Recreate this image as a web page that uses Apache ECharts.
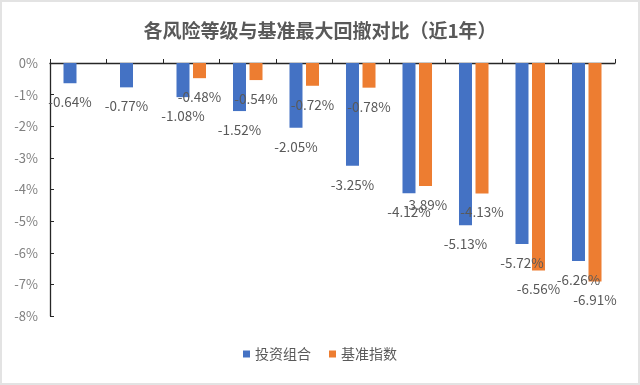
<!DOCTYPE html>
<html>
<head>
<meta charset="utf-8">
<script src="https://cdn.jsdelivr.net/npm/echarts@6/dist/echarts.min.js"></script>
<style>
html,body{margin:0;padding:0;background:#fff;}
#c{width:640px;height:385px;box-sizing:border-box;border:2px solid #e3e3e3;}
</style>
</head>
<body>
<div id="c"></div>
<script>
const titleText = '各风险等级与基准最大回撤对比（近1年）';
const categories = ['R1','R2','R3','R4','R5','R6','R7','R8','R9','R10'];
const seriesNames = ['投资组合','基准指数'];
const portfolio = [-0.64,-0.77,-1.08,-1.52,-2.05,-3.25,-4.12,-5.13,-5.72,-6.26];
const benchmark = [null,null,-0.48,-0.54,-0.72,-0.78,-3.89,-4.13,-6.56,-6.91];
const yMin = -8, yMax = 0, yStep = 1;

const chart = echarts.init(document.getElementById('c'), null, {renderer:'canvas'});
const fontFam = '"Noto Sans CJK SC","Noto Sans",sans-serif';
const labelCfg = {
  show:true, position:'bottom', distance:12,
  color:'#595959', fontSize:13.5, fontFamily:fontFam,
  formatter: p => p.value == null ? '' : p.value.toFixed(2) + '%'
};
chart.setOption({
  animation:false,
  backgroundColor:'#fff',
  title:{text:titleText,left:'center',top:14,
    textStyle:{fontSize:19,fontWeight:'bold',color:'#595959',fontFamily:fontFam}},
  legend:{data:seriesNames,bottom:17,left:'center',icon:'rect',itemWidth:7,itemHeight:7,itemGap:18,
    textStyle:{fontSize:14,color:'#595959',fontFamily:fontFam}},
  grid:{left:48,right:23,top:61,bottom:67,containLabel:false},
  xAxis:{type:'category',data:categories,
    axisLine:{onZero:true,lineStyle:{color:'#262626',width:1.3}},
    axisTick:{show:true,inside:true,length:4,alignWithLabel:false,lineStyle:{color:'#262626'}},
    axisLabel:{show:false},splitLine:{show:false}},
  yAxis:{type:'value',min:yMin,max:yMax,interval:yStep,
    axisLine:{show:true,lineStyle:{color:'#262626',width:1.3}},
    axisTick:{show:true,inside:true,length:4,lineStyle:{color:'#262626'}},
    splitLine:{show:false},
    axisLabel:{formatter:v=>v+'%',color:'#808080',fontSize:13,margin:12,fontFamily:fontFam}},
  series:[
    {name:seriesNames[0],type:'bar',data:portfolio,barWidth:13,barGap:'27%',
      itemStyle:{color:'#4472C4'},label:labelCfg},
    {name:seriesNames[1],type:'bar',data:benchmark,barWidth:13,
      itemStyle:{color:'#ED7D31'},label:labelCfg}
  ]
});
</script>
</body>
</html>
